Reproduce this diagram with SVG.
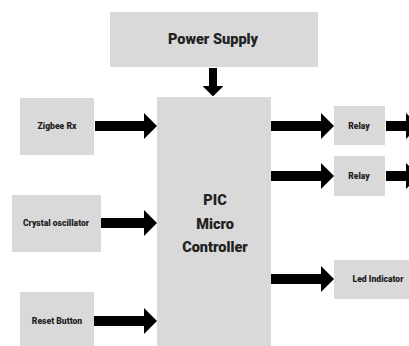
<svg xmlns="http://www.w3.org/2000/svg" width="409" height="346" viewBox="0 0 409 346">
<style>
.box{fill:#d9d9d9}
.t{font-family:Roboto,"Liberation Sans",sans-serif;font-weight:900;fill:#222;text-anchor:middle;dominant-baseline:central}
.s{font-size:8.6px}
.m{font-size:14.5px}
.a{stroke:#000;stroke-width:10;fill:none}
</style>
<defs>
<marker id="ah" viewBox="0 0 13 26" markerWidth="1.3" markerHeight="2.6" refX="0" refY="13" orient="auto">
<path d="M0,0 L13,13 L0,26 Z" fill="#000"/>
</marker>
</defs>
<rect width="409" height="346" fill="#fff"/>
<g id="power"><rect class="box" x="110" y="12" width="208" height="55"/><text class="t m" x="213" y="39">Power Supply</text></g>
<g id="pic"><rect class="box" x="157" y="97" width="114" height="249"/>
<text class="t m" x="215" y="200">PIC</text><text class="t m" x="215" y="224">Micro</text><text class="t m" x="215" y="247">Controller</text></g>
<g id="zigbee"><rect class="box" x="20" y="98" width="74" height="57"/><text class="t s" x="57" y="126">Zigbee Rx</text></g>
<g id="crystal"><rect class="box" x="12" y="195" width="89" height="57"/><text class="t s" x="56" y="223">Crystal oscillator</text></g>
<g id="reset"><rect class="box" x="20" y="292" width="74" height="54"/><text class="t s" x="57" y="321">Reset Button</text></g>
<g id="relay1"><rect class="box" x="334" y="106" width="51" height="39"/><text class="t s" x="359" y="126">Relay</text></g>
<g id="relay2"><rect class="box" x="334" y="156" width="51" height="40"/><text class="t s" x="359" y="176">Relay</text></g>
<g id="led"><rect class="box" x="334" y="260" width="80" height="39"/><text class="t s" x="378" y="279">Led Indicator</text></g>
<g id="connectors">
<line class="a" style="stroke-width:8" x1="213" y1="68" x2="213" y2="86" marker-end="url(#ah)"/>
<line class="a" x1="95" y1="126" x2="144" y2="126" marker-end="url(#ah)"/>
<line class="a" x1="101" y1="223" x2="144" y2="223" marker-end="url(#ah)"/>
<line class="a" x1="94" y1="321" x2="144" y2="321" marker-end="url(#ah)"/>
<line class="a" x1="271" y1="126" x2="321" y2="126" marker-end="url(#ah)"/>
<line class="a" x1="271" y1="176" x2="321" y2="176" marker-end="url(#ah)"/>
<line class="a" x1="271" y1="279" x2="321" y2="279" marker-end="url(#ah)"/>
<line class="a" x1="386" y1="126" x2="406" y2="126" marker-end="url(#ah)"/>
<line class="a" x1="386" y1="176" x2="406" y2="176" marker-end="url(#ah)"/>
</g>
</svg>
